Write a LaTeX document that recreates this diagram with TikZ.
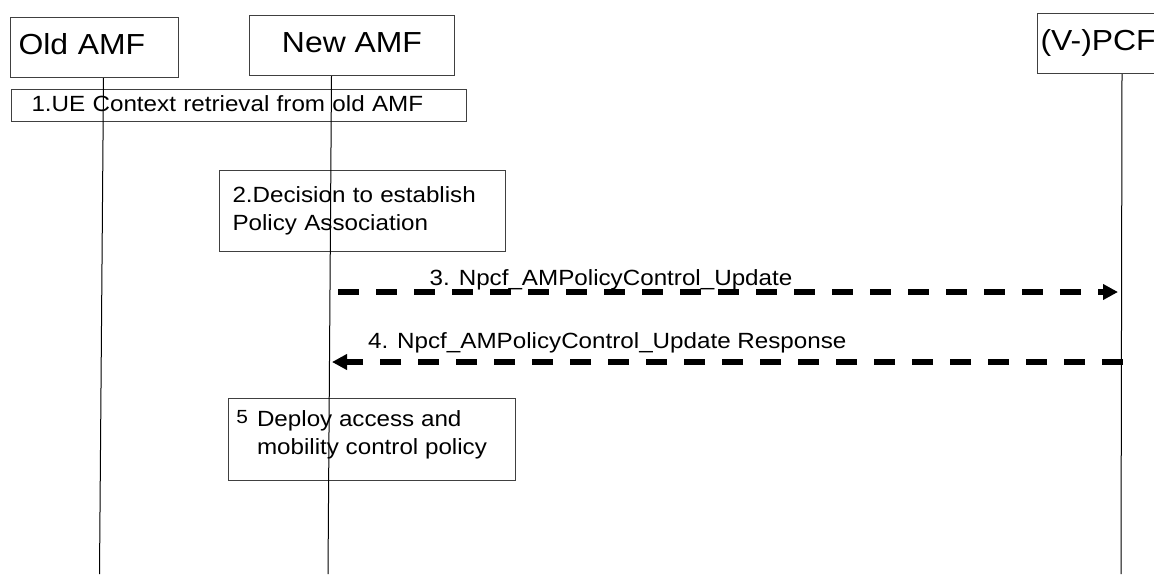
\documentclass[tikz,border=0pt]{standalone}
\usepackage{fontspec}
\setmainfont{Liberation Sans}[FakeStretch=1.1]
\usetikzlibrary{arrows.meta}

\begin{document}
\begin{tikzpicture}[x=1pt, y=-1pt,
		entity/.style={draw=black!75, line width=1pt, anchor=north west, minimum height=60pt, text height=21pt, text depth=8pt, font=\fontsize{29}{31}\selectfont},
		stepbox/.style={draw=black!75, line width=1pt, anchor=north west, align=left, font=\fontsize{22}{28}\selectfont},
		life/.style={line width=1pt},
		msg/.style={line width=5.5pt, dash pattern=on 21pt off 17pt, -{Triangle[length=15pt,width=15pt]}},
		lbl/.style={font=\fontsize{22}{24}\selectfont, inner sep=0pt, anchor=base}]
			\clip (0,0) rectangle (1154,574);
			\node[entity, minimum width=168pt, text width=152pt, inner xsep=8pt, align=left] (oldamf) at (10,17) {Old AMF};
			\node[entity, minimum width=205pt, align=center] (newamf) at (249,15) {New AMF};
			\node[entity, minimum width=140pt, text width=134pt, inner xsep=3pt, align=left] (pcf) at (1037,13) {(V-)PCF};
			\node[stepbox, text width=415pt, inner xsep=20pt, minimum height=32pt, text height=15pt, text depth=3pt] (s1) at (11,89) {1.UE Context retrieval from old AMF};
			\node[stepbox, text width=260pt, inner xsep=13pt, minimum height=81pt] (s2) at (219,170) {2.Decision to establish\\Policy Association};
			\node[stepbox, minimum width=287pt, minimum height=82pt, text depth=14pt] (s5) at (228,398) {\llap{\raisebox{3pt}{\fontsize{19}{19}\selectfont 5}\hspace{9pt}}Deploy access and\\mobility control policy};
			\coordinate (oldbot) at (99.5,574);
			\coordinate (newbot) at (328,574);
			\coordinate (pcfbot) at (1121,574);
			\draw[life] ([xshift=9pt]oldamf.south) -- (oldbot);
			\draw[life] ([xshift=-20.5pt]newamf.south) -- (newbot);
			\draw[life] ([xshift=14.5pt]pcf.south) -- (pcfbot);
			\coordinate (m3a) at (338,292);
			\coordinate (m3b) at (1118,292);
			\coordinate (m4a) at (1123,362);
			\coordinate (m4b) at (332,362);
			\draw[msg] (m3a) -- node[lbl, pos=0.35, yshift=7pt] {3. Npcf\_AMPolicyControl\_Update} (m3b);
			\draw[msg] (m4a) -- node[lbl, pos=0.652, yshift=14pt] {4. Npcf\_AMPolicyControl\_Update Response} (m4b);
		\end{tikzpicture}
\end{document}
